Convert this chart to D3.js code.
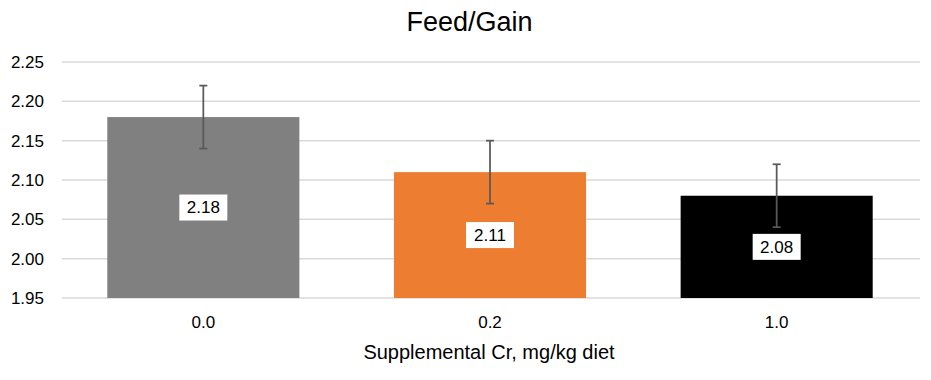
<!DOCTYPE html>
<html>
<head>
<meta charset="utf-8">
<script src="https://cdn.jsdelivr.net/npm/d3@7"></script>
<style>
  body { margin: 0; background: #fff; }
  text { font-family: "Liberation Sans", Arial, sans-serif; }
</style>
</head>
<body>
<div id="chart"></div>
<script>
const categories = ["0.0", "0.2", "1.0"];
const values = [2.18, 2.11, 2.08];
const errors = [0.04, 0.04, 0.04];
const colors = ["#808080", "#ED7D31", "#000000"];
const yTicks = [1.95, 2.00, 2.05, 2.10, 2.15, 2.20, 2.25];

const W = 931, H = 380;
const margin = { top: 62, right: 11, bottom: 82, left: 60 };
const width = W - margin.left - margin.right,
  height = H - margin.top - margin.bottom;

const svg = d3.select("#chart").append("svg")
  .attr("width", W).attr("height", H);

svg.append("text")
  .attr("x", W / 2 + 4).attr("y", 31)
  .attr("text-anchor", "middle")
  .style("font-size", "27px")
  .attr("fill", "#000")
  .text("Feed/Gain");

const g = svg.append("g")
  .attr("transform", "translate(" + margin.left + "," + margin.top + ")");

const x = d3.scaleBand().domain(categories).range([0, width])
  .paddingInner(0.33).paddingOuter(0.165);
const y = d3.scaleLinear().domain([1.95, 2.25]).range([height, 0]);

// gridlines
g.append("g")
  .selectAll("line").data(yTicks).enter().append("line")
  .attr("x1", 2).attr("x2", width)
  .attr("y1", d => y(d)).attr("y2", d => y(d))
  .attr("stroke", "#d9d9d9").attr("stroke-width", 1.5);

// y labels
g.append("g")
  .selectAll("text").data(yTicks).enter().append("text")
  .attr("x", -16).attr("y", d => y(d)).attr("dy", "0.35em")
  .attr("text-anchor", "end")
  .style("font-size", "17px")
  .attr("fill", "#000")
  .text(d => d3.format(".2f")(d));

// bars
g.selectAll(".bar").data(values).enter().append("rect")
  .attr("x", (d, i) => x(categories[i]))
  .attr("width", x.bandwidth())
  .attr("y", d => y(d))
  .attr("height", d => height - y(d))
  .attr("fill", (d, i) => colors[i]);

// error bars
const eb = g.selectAll(".err").data(values).enter().append("g")
  .attr("stroke", "#595959").attr("stroke-width", 1.75);
eb.append("line")
  .attr("x1", (d, i) => x(categories[i]) + x.bandwidth() / 2)
  .attr("x2", (d, i) => x(categories[i]) + x.bandwidth() / 2)
  .attr("y1", (d, i) => y(d + errors[i]))
  .attr("y2", (d, i) => y(d - errors[i]));
[1, -1].forEach(s => {
  eb.append("line")
    .attr("x1", (d, i) => x(categories[i]) + x.bandwidth() / 2 - 4)
    .attr("x2", (d, i) => x(categories[i]) + x.bandwidth() / 2 + 4)
    .attr("y1", (d, i) => y(d + s * errors[i]))
    .attr("y2", (d, i) => y(d + s * errors[i]));
});

// data labels
const lab = g.selectAll(".lab").data(values).enter().append("g")
  .attr("transform", (d, i) => "translate(" + (x(categories[i]) + x.bandwidth() / 2) + "," + ((y(d) + height) / 2) + ")");
lab.append("rect")
  .attr("x", -24).attr("y", -13).attr("width", 48).attr("height", 26)
  .attr("fill", "#fff");
lab.append("text")
  .attr("text-anchor", "middle").attr("dy", "0.35em")
  .style("font-size", "17px").attr("fill", "#000")
  .text(d => d3.format(".2f")(d));

// x labels
g.append("g")
  .selectAll("text").data(categories).enter().append("text")
  .attr("x", d => x(d) + x.bandwidth() / 2)
  .attr("y", height + 30)
  .attr("text-anchor", "middle")
  .style("font-size", "17px").attr("fill", "#000")
  .text(d => d);

svg.append("text")
  .attr("x", margin.left + width / 2 - 1).attr("y", H - 21)
  .attr("text-anchor", "middle")
  .style("font-size", "20px").attr("fill", "#000")
  .text("Supplemental Cr, mg/kg diet");
</script>
</body>
</html>
